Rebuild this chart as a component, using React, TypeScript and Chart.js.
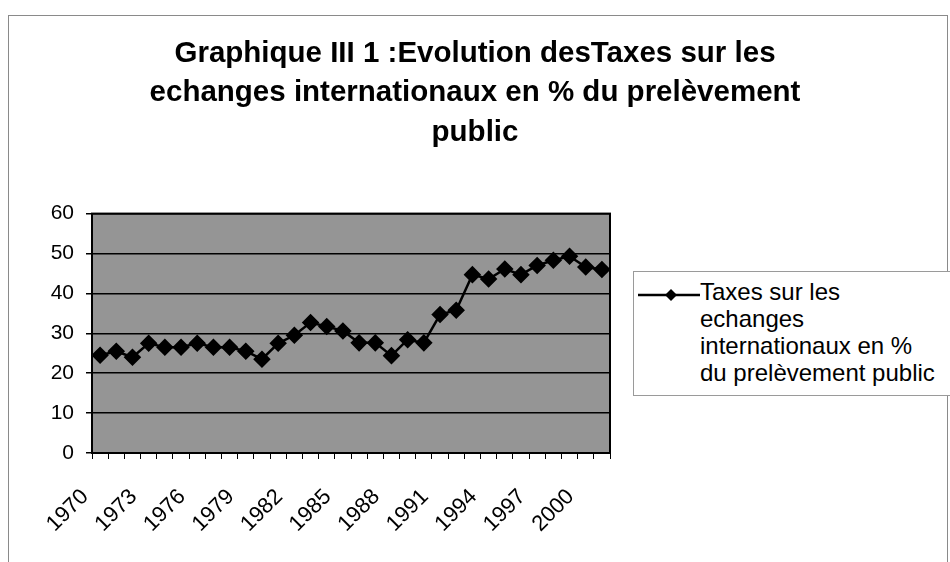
import React, { useEffect, useRef } from "react";
import { Chart, registerables } from "chart.js";

Chart.register(...registerables);

const years: string[] = [
  "1970", "1971", "1972", "1973", "1974", "1975", "1976", "1977", "1978", "1979",
  "1980", "1981", "1982", "1983", "1984", "1985", "1986", "1987", "1988", "1989",
  "1990", "1991", "1992", "1993", "1994", "1995", "1996", "1997", "1998", "1999",
  "2000", "2001",
];

const taxValues: number[] = [
  24.5, 25.5, 24, 27.5, 26.5, 26.5, 27.5, 26.5, 26.5, 25.5,
  23.5, 27.5, 29.5, 32.7, 31.7, 30.6, 27.6, 27.6, 24.4, 28.4,
  27.6, 34.7, 35.8, 44.7, 43.6, 46.1, 44.7, 47.0, 48.3, 49.3,
  46.6, 46.0,
];

const yMin = 0;
const yMax = 60;
const yStep = 10;

const titleLines: string[] = [
  "Graphique III 1 :Evolution desTaxes sur les",
  "echanges internationaux en % du prelèvement",
  "public",
];

const legendLines: string[] = [
  "Taxes sur les",
  "echanges",
  "internationaux en %",
  "du prelèvement public",
];

const FONT = "'Liberation Sans', Arial, Helvetica, sans-serif";

const plotFrame = {
  id: "plotFrame",
  beforeDraw(chart: any) {
    const { ctx, chartArea } = chart;
    const { left, top, width, height } = chartArea;
    ctx.save();
    ctx.fillStyle = "#959595";
    ctx.fillRect(left, top, width, height);
    ctx.restore();
  },
  afterDraw(chart: any) {
    const { ctx, chartArea } = chart;
    const { left, top, width, height } = chartArea;
    ctx.save();
    ctx.strokeStyle = "#000";
    ctx.lineWidth = 2;
    ctx.strokeRect(left, top, width, height);
    ctx.restore();
  },
};

export default function App() {
  const canvasRef = useRef<HTMLCanvasElement | null>(null);

  useEffect(() => {
    const canvas = canvasRef.current;
    if (!canvas) return;
    const chart = new Chart(canvas, {
      type: "line",
      data: {
        labels: years,
        datasets: [
          {
            label: legendLines.join(" "),
            data: taxValues,
            borderColor: "#000",
            backgroundColor: "#000",
            borderWidth: 2.5,
            pointStyle: "rectRot",
            pointRadius: 7,
            pointHoverRadius: 7,
            pointBackgroundColor: "#000",
            pointBorderColor: "#000",
            tension: 0,
          },
        ],
      },
      options: {
        responsive: false,
        animation: false,
        layout: { padding: { left: 0, right: 0, top: 0, bottom: 0 } },
        plugins: {
          legend: { display: false },
          tooltip: { enabled: false },
          title: {
            display: true,
            text: titleLines,
            color: "#000",
            font: { family: FONT, size: 29.5, weight: "bold", lineHeight: 1.34 },
            padding: { top: 34, bottom: 61 },
          },
        },
        scales: {
          x: {
            type: "category",
            offset: true,
            grid: {
              offset: true,
              drawOnChartArea: false,
              drawTicks: true,
              tickLength: 6,
              color: "#000",
              lineWidth: 1,
            },
            border: { color: "#000", width: 2 },
            ticks: {
              autoSkip: false,
              maxRotation: 45,
              minRotation: 45,
              padding: 25,
              labelOffset: -15,
              color: "#000",
              font: { family: FONT, size: 22 },
              callback: (_v: any, i: number) => (i % 3 === 0 ? years[i] : ""),
            },
            afterFit: (s: any) => {
              s.height = 109;
            },
          },
          y: {
            min: yMin,
            max: yMax,
            grid: { color: "#000", lineWidth: 1.5, tickLength: 6 },
            border: { color: "#000", width: 2 },
            ticks: {
              stepSize: yStep,
              padding: 12,
              color: "#000",
              font: { family: FONT, size: 21 },
            },
            afterFit: (s: any) => {
              s.width = 92;
            },
          },
          ySpace: {
            position: "right",
            min: yMin,
            max: yMax,
            display: true,
            grid: { display: false, drawOnChartArea: false, drawTicks: false },
            border: { display: false },
            ticks: { display: false },
            afterFit: (s: any) => {
              s.width = 340;
            },
          },
        },
      },
      plugins: [plotFrame],
    });
    return () => chart.destroy();
  }, []);

  return (
    <div
      style={{
        position: "fixed",
        left: 0,
        top: 0,
        width: 950,
        height: 562,
        overflow: "hidden",
        background: "#fff",
        fontFamily: FONT,
      }}
    >
      <div
        style={{
          position: "absolute",
          left: 8,
          top: 15,
          width: 938,
          height: 600,
          border: "1px solid #8a8a8a",
        }}
      />
      <canvas
        ref={canvasRef}
        width={950}
        height={562}
        style={{ position: "absolute", left: 0, top: 0, width: 950, height: 562 }}
      />
      <div
        style={{
          position: "absolute",
          left: 633,
          top: 271,
          width: 340,
          height: 123,
          border: "1px solid #9a9a9a",
          background: "#fff",
        }}
      >
        <svg
          width={62}
          height={16}
          style={{ position: "absolute", left: 4, top: 15 }}
        >
          <line x1={0} y1={8} x2={62} y2={8} stroke="#000" strokeWidth={2.5} />
          <polygon points="33,2 39,8 33,14 27,8" fill="#000" />
        </svg>
        <div
          style={{
            position: "absolute",
            left: 66,
            top: 6,
            fontSize: 24,
            lineHeight: "27px",
            color: "#000",
            whiteSpace: "nowrap",
          }}
        >
          {legendLines.map((l, i) => (
            <div key={i}>{l}</div>
          ))}
        </div>
      </div>
    </div>
  );
}
